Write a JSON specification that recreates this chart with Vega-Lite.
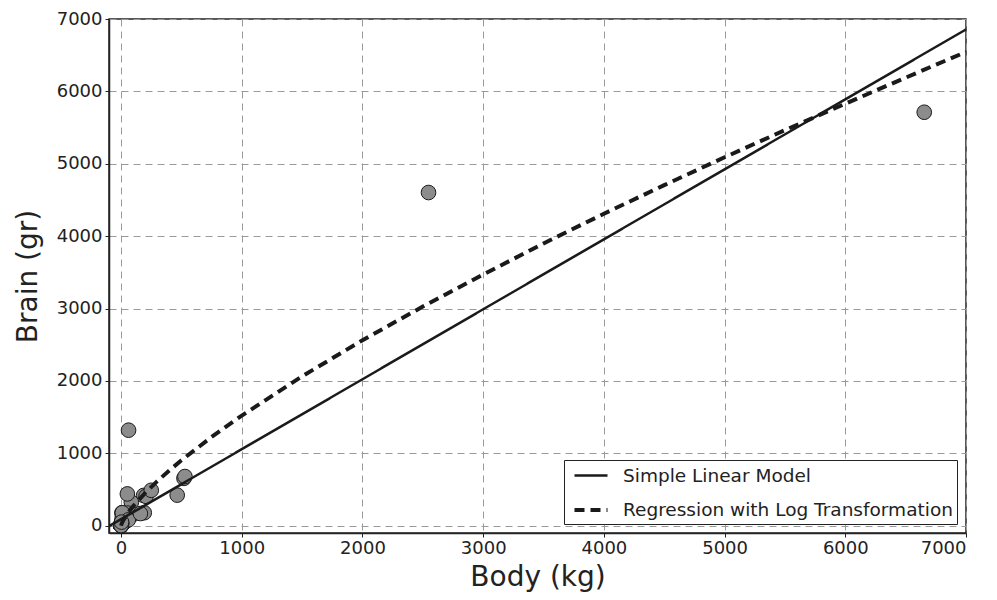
{
  "$schema": "https://vega.github.io/schema/vega-lite/v6.json",
  "width": 857,
  "height": 514,
  "autosize": {"type": "none"},
  "padding": {"left": 109, "top": 19, "right": 31, "bottom": 67},
  "background": "white",
  "config": {
    "font": "DejaVu Sans",
    "view": {"stroke": "#222", "strokeWidth": 1.5},
    "axis": {
      "grid": true,
      "gridColor": "#9a9a9a",
      "gridDash": [7, 5],
      "gridWidth": 1,
      "domainColor": "#222",
      "domainWidth": 1.5,
      "tickColor": "#222",
      "tickWidth": 1,
      "labelFont": "DejaVu Sans",
      "labelFontSize": 18,
      "labelColor": "#222",
      "titleFont": "DejaVu Sans",
      "titleFontSize": 28,
      "titleFontWeight": "normal",
      "titleColor": "#222",
      "format": "d"
    },
    "legend": {
      "labelFont": "DejaVu Sans",
      "labelFontSize": 18.5,
      "labelColor": "#222"
    }
  },
  "datasets": {
    "mammals": [
      {"body": 3.385, "brain": 44.5}, {"body": 0.48, "brain": 15.5}, {"body": 1.35, "brain": 8.1},
      {"body": 465, "brain": 423}, {"body": 36.33, "brain": 119.5}, {"body": 27.66, "brain": 115},
      {"body": 14.83, "brain": 98.2}, {"body": 1.04, "brain": 5.5}, {"body": 4.19, "brain": 58},
      {"body": 0.425, "brain": 6.4}, {"body": 0.101, "brain": 4}, {"body": 0.92, "brain": 5.7},
      {"body": 1, "brain": 6.6}, {"body": 0.005, "brain": 0.14}, {"body": 0.06, "brain": 1},
      {"body": 3.5, "brain": 10.8}, {"body": 2, "brain": 12.3}, {"body": 1.7, "brain": 6.3},
      {"body": 2547, "brain": 4603}, {"body": 0.023, "brain": 0.3}, {"body": 187.1, "brain": 419},
      {"body": 521, "brain": 655}, {"body": 0.785, "brain": 3.5}, {"body": 10, "brain": 115},
      {"body": 3.3, "brain": 25.6}, {"body": 0.2, "brain": 5}, {"body": 1.41, "brain": 17.5},
      {"body": 529, "brain": 680}, {"body": 207, "brain": 406}, {"body": 85, "brain": 325},
      {"body": 0.75, "brain": 12.3}, {"body": 62, "brain": 1320}, {"body": 6654, "brain": 5712},
      {"body": 3.5, "brain": 3.9}, {"body": 6.8, "brain": 179}, {"body": 35, "brain": 56},
      {"body": 4.05, "brain": 17}, {"body": 0.12, "brain": 1}, {"body": 0.023, "brain": 0.4},
      {"body": 0.01, "brain": 0.25}, {"body": 1.4, "brain": 12.5}, {"body": 250, "brain": 490},
      {"body": 2.5, "brain": 12.1}, {"body": 55.5, "brain": 175}, {"body": 100, "brain": 157},
      {"body": 52.16, "brain": 440}, {"body": 10.55, "brain": 179.5}, {"body": 0.55, "brain": 2.4},
      {"body": 60, "brain": 81}, {"body": 3.6, "brain": 21}, {"body": 4.288, "brain": 39.2},
      {"body": 0.28, "brain": 1.9}, {"body": 0.075, "brain": 1.2}, {"body": 0.122, "brain": 3},
      {"body": 0.048, "brain": 0.33}, {"body": 192, "brain": 180}, {"body": 3, "brain": 25},
      {"body": 160, "brain": 169}, {"body": 0.9, "brain": 2.6}, {"body": 1.62, "brain": 11.4},
      {"body": 0.104, "brain": 2.5}, {"body": 4.235, "brain": 50.4}
    ],
    "fits": [
      {"model": "Simple Linear Model", "body": -100, "brain": -5.7},
      {"model": "Simple Linear Model", "body": 7000, "brain": 6856},
      {"model": "Regression with Log Transformation", "body": 0.005, "brain": 0.16},
      {"model": "Regression with Log Transformation", "body": 1, "brain": 8.5},
      {"model": "Regression with Log Transformation", "body": 5, "brain": 28.4},
      {"model": "Regression with Log Transformation", "body": 10, "brain": 47.7},
      {"model": "Regression with Log Transformation", "body": 20, "brain": 80.4},
      {"model": "Regression with Log Transformation", "body": 50, "brain": 160},
      {"model": "Regression with Log Transformation", "body": 100, "brain": 270},
      {"model": "Regression with Log Transformation", "body": 200, "brain": 454},
      {"model": "Regression with Log Transformation", "body": 300, "brain": 616},
      {"model": "Regression with Log Transformation", "body": 400, "brain": 764},
      {"model": "Regression with Log Transformation", "body": 500, "brain": 904},
      {"model": "Regression with Log Transformation", "body": 750, "brain": 1226},
      {"model": "Regression with Log Transformation", "body": 1000, "brain": 1522},
      {"model": "Regression with Log Transformation", "body": 1500, "brain": 2064},
      {"model": "Regression with Log Transformation", "body": 2000, "brain": 2563},
      {"model": "Regression with Log Transformation", "body": 2500, "brain": 3028},
      {"model": "Regression with Log Transformation", "body": 3000, "brain": 3470},
      {"model": "Regression with Log Transformation", "body": 3500, "brain": 3900},
      {"model": "Regression with Log Transformation", "body": 4000, "brain": 4310},
      {"model": "Regression with Log Transformation", "body": 4500, "brain": 4705},
      {"model": "Regression with Log Transformation", "body": 5000, "brain": 5090},
      {"model": "Regression with Log Transformation", "body": 5500, "brain": 5465},
      {"model": "Regression with Log Transformation", "body": 6000, "brain": 5830},
      {"model": "Regression with Log Transformation", "body": 6500, "brain": 6190},
      {"model": "Regression with Log Transformation", "body": 7000, "brain": 6545}
    ]
  },
  "layer": [
    {
      "data": {"name": "mammals"},
      "mark": {"type": "point", "filled": true, "fill": "#8c8c8c", "stroke": "#1a1a1a", "strokeWidth": 1, "opacity": 1, "size": 215},
      "encoding": {
        "x": {
          "field": "body", "type": "quantitative",
          "scale": {"domain": [-100, 7000], "nice": false, "zero": false},
          "axis": {"title": "Body (kg)", "values": [0, 1000, 2000, 3000, 4000, 5000, 6000, 7000], "tickSize": 4, "labelPadding": 2, "titlePadding": 6}
        },
        "y": {
          "field": "brain", "type": "quantitative",
          "scale": {"domain": [-100, 7000], "nice": false, "zero": false},
          "axis": {"title": "Brain (gr)", "values": [0, 1000, 2000, 3000, 4000, 5000, 6000, 7000], "tickSize": 4, "labelPadding": 3, "titlePadding": 14}
        }
      }
    },
    {
      "data": {"name": "fits"},
      "mark": {"type": "line", "color": "#1a1a1a", "clip": true},
      "encoding": {
        "x": {"field": "body", "type": "quantitative"},
        "y": {"field": "brain", "type": "quantitative"},
        "detail": {"field": "model"},
        "strokeDash": {
          "field": "model", "type": "nominal",
          "scale": {"domain": ["Simple Linear Model", "Regression with Log Transformation"], "range": [[1, 0], [10, 6]]},
          "legend": {
            "title": null,
            "orient": "bottom-right",
            "offset": 9,
            "fillColor": "white",
            "strokeColor": "#222",
            "padding": 4,
            "rowPadding": 13,
            "symbolType": "M-1.65,0L1.65,0",
            "symbolSize": 400,
            "symbolStrokeWidth": 3.5,
            "symbolStrokeColor": "#1a1a1a",
            "symbolOffset": 11,
            "labelOffset": 20,
            "labelLimit": 400
          }
        },
        "strokeWidth": {
          "field": "model", "type": "nominal",
          "scale": {"domain": ["Simple Linear Model", "Regression with Log Transformation"], "range": [2.5, 4]},
          "legend": null
        }
      }
    }
  ]
}
